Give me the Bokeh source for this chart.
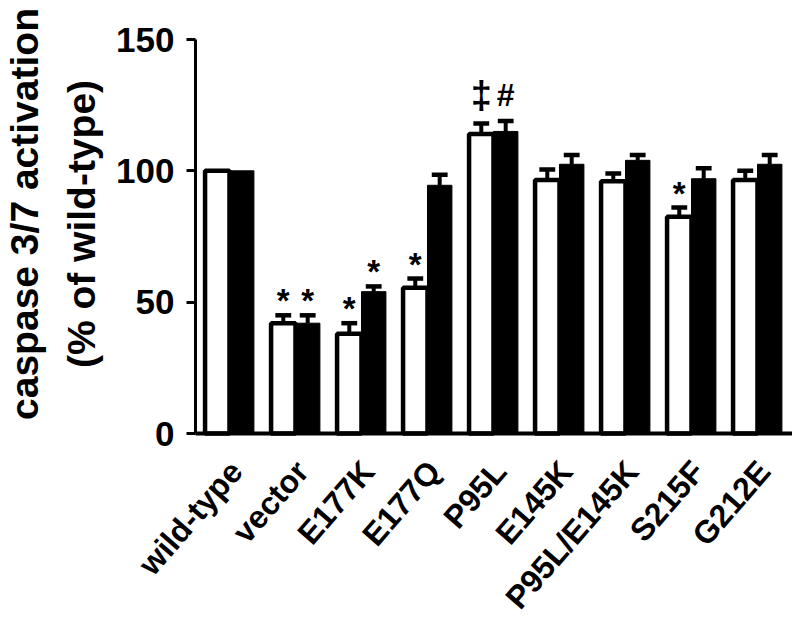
import numpy as np
from bokeh.plotting import figure
from bokeh.models import ColumnDataSource, FixedTicker, Range1d, Label
from bokeh.core.properties import value
from bokeh.embed import file_html
from bokeh.resources import INLINE

groups = ["wild-type", "vector", "E177K", "E177Q", "P95L", "E145K", "P95L/E145K", "S215F", "G212E"]
white_mean = [100, 42, 38, 55.5, 114, 96.5, 96, 82.5, 96.5]
white_err = [0, 3, 4, 3.5, 4, 4, 3, 3.5, 3.5]
black_mean = [100, 42, 54, 94.5, 115, 102.5, 104, 97, 102.5]
black_err = [0, 3, 2, 4, 4, 3.5, 2, 4, 3.5]
white_marks = ["", "*", "*", "*", "\u2021", "", "", "*", ""]
black_marks = ["", "*", "*", "", "#", "", "", "", ""]
y_ticks = [0, 50, 100, 150]
y_title = ["caspase 3/7 activation", "(% of wild-type)"]

FONT = "Liberation Sans"
MARK_SIZE = {"*": "33px", "#": "32px", "\u2021": "38px"}
MARK_GAP = {"*": 5.5, "#": 10, "\u2021": 11}
BW = 0.37
OFF = BW / 2
CAP = 0.12
LABEL_SHIFT = 0.1    # category label anchor, slightly right of group centre

X_LO, X_HI = -0.515, 8.53     # extent of the drawn x axis
Y_LO, Y_HI = 0, 150           # extent of the drawn y axis

xg = np.arange(len(groups), dtype=float)
xw = xg - OFF
xb = xg + OFF

# the frame fills the whole figure; both axes are pinned inside it
p = figure(width=792, height=623, output_backend="svg", toolbar_location=None,
           x_range=Range1d(-3.4695, 8.5305), y_range=Range1d(-72.33, 164.85))
p.min_border = 0
p.outline_line_color = None
p.xgrid.visible = False
p.ygrid.visible = False
p.background_fill_color = "white"
p.border_fill_color = "white"

# bars
p.vbar(x=xw, top=white_mean, width=BW, bottom=0, fill_color="white",
       line_color="black", line_width=4.5)
p.vbar(x=xb, top=black_mean, width=BW, bottom=0, fill_color="black",
       line_color="black", line_width=1)

# error bars (upper only)
ex, etop, ebase = [], [], []
for xs, m, e in ((xw, white_mean, white_err), (xb, black_mean, black_err)):
    for xi, mi, ei in zip(xs, m, e):
        if ei > 0:
            ex.append(xi)
            ebase.append(mi)
            etop.append(mi + ei)
ex = np.array(ex)
esrc = ColumnDataSource(dict(x=ex, x0=ex - CAP, x1=ex + CAP, base=ebase, top=etop))
p.segment(x0="x", y0="base", x1="x", y1="top", source=esrc, line_color="black", line_width=4)
p.segment(x0="x0", y0="top", x1="x1", y1="top", source=esrc, line_color="black", line_width=4.5)

# significance marks
mx, my, mt, ms = [], [], [], []
for xs, m, e, marks in ((xw, white_mean, white_err, white_marks), (xb, black_mean, black_err, black_marks)):
    for xi, mi, ei, t in zip(xs, m, e, marks):
        if t:
            mx.append(xi)
            my.append(mi + ei + MARK_GAP[t])
            mt.append(t)
            ms.append(MARK_SIZE[t])
msrc = ColumnDataSource(dict(x=mx, y=my, text=mt, size=ms))
p.text(x="x", y="y", text="text", source=msrc, text_font=value(FONT), text_font_style="bold",
       text_font_size="size", text_align="center", text_baseline="alphabetic",
       text_color="black")

# y axis pinned at the left end of the x axis
ya = p.yaxis[0]
ya.fixed_location = X_LO
ya.bounds = (Y_LO, Y_HI)
ya.ticker = FixedTicker(ticks=y_ticks)
ya.axis_line_width = 3
ya.axis_line_color = "black"
ya.major_tick_line_width = 3
ya.major_tick_out = 9
ya.major_tick_in = 0
ya.minor_tick_line_color = None
ya.major_label_text_font = FONT
ya.major_label_text_font_style = "bold"
ya.major_label_text_font_size = "35px"
ya.major_label_text_color = "black"
ya.major_label_standoff = 12

# y title, two lines
for txt, tx, ty in zip(y_title, (-3.105, -2.242), (83.57, 79.76)):
    p.add_layout(Label(x=tx, y=ty, text=txt, angle=np.pi / 2, text_align="center",
                       text_baseline="middle", text_font=FONT,
                       text_font_style="bold", text_font_size="39px",
                       text_color="black"))

# x axis pinned at y = 0
xa = p.xaxis[0]
xa.fixed_location = Y_LO
xa.bounds = (X_LO, X_HI)
label_ticks = [float(v) for v in xg + LABEL_SHIFT]
xa.ticker = FixedTicker(ticks=label_ticks)
xa.major_label_overrides = {t: g for t, g in zip(label_ticks, groups)}
xa.axis_line_width = 4
xa.axis_line_color = "black"
xa.major_tick_line_color = None
xa.major_tick_out = 0
xa.major_tick_in = 0
xa.minor_tick_line_color = None
xa.minor_tick_out = 0
xa.minor_tick_in = 0
xa.major_label_orientation = 0.855
xa.major_label_text_font = FONT
xa.major_label_text_font_style = "bold"
xa.major_label_text_font_size = "32px"
xa.major_label_text_color = "black"
xa.major_label_standoff = 32

open("out.html", "w").write(file_html(p, INLINE))
